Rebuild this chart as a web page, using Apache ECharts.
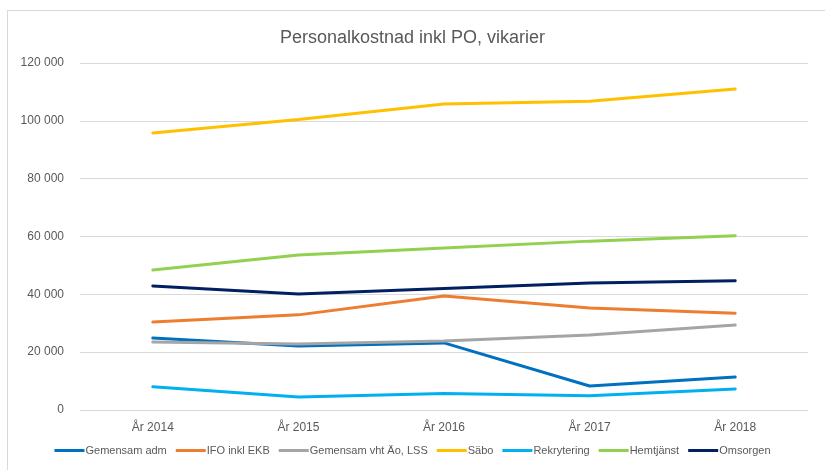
<!DOCTYPE html>
<html>
<head>
<meta charset="utf-8">
<script src="https://cdn.jsdelivr.net/npm/echarts@6/dist/echarts.min.js"></script>
<style>
  html, body { margin: 0; padding: 0; background: #fff; }
  #frame { position: absolute; left: 7px; top: 10px; width: 830px; height: 480px; border: 1px solid #d9d9d9; box-sizing: border-box; }
  #chart { position: absolute; left: 0; top: 0; width: 825px; height: 470px; }
</style>
</head>
<body>
<div id="frame"></div>
<div id="chart"></div>
<script>
  // years on the x axis
  var years = ['År 2014', 'År 2015', 'År 2016', 'År 2017', 'År 2018']

  // values
  var gemensamAdm = [24900, 22100, 23200, 8300, 11400]
  var ifoInklEkb = [30400, 32900, 39400, 35300, 33500]
  var gemensamVht = [23500, 22800, 23900, 25900, 29400]
  var sabo = [95800, 100500, 105800, 106800, 111000]
  var rekrytering = [8000, 4500, 5700, 4900, 7300]
  var hemtjanst = [48400, 53600, 56000, 58400, 60300]
  var omsorgen = [42900, 40100, 42000, 43900, 44700]

  var names = ['Gemensam adm', 'IFO inkl EKB', 'Gemensam vht Äo, LSS', 'Säbo', 'Rekrytering', 'Hemtjänst', 'Omsorgen']
  var values = [gemensamAdm, ifoInklEkb, gemensamVht, sabo, rekrytering, hemtjanst, omsorgen]
  var colors = ['#0070C0', '#ED7D31', '#A5A5A5', '#FFC000', '#00B0F0', '#92D050', '#002060']

  var font = '"Liberation Sans", sans-serif'

  var series = names.map(function (n, i) {
    return {
      name: n,
      type: 'line',
      data: values[i],
      symbol: 'none',
      lineStyle: { width: 3, color: colors[i], cap: 'round' },
      itemStyle: { color: colors[i] }
    }
  })

  var myChart = echarts.init(document.getElementById('chart'))
  myChart.setOption({
    animation: false,
    textStyle: { fontFamily: font },
    title: {
      text: 'Personalkostnad inkl PO, vikarier',
      left: 'center',
      top: 24,
      textStyle: { fontSize: 18, fontWeight: 'normal', color: '#595959', fontFamily: font }
    },
    legend: {
      bottom: 9,
      left: 'center',
      itemWidth: 30,
      itemHeight: 3,
      itemGap: 9,
      icon: 'rect',
      textStyle: { fontSize: 11, color: '#595959', fontFamily: font, padding: [0, 0, 0, -4] },
      data: names
    },
    grid: { left: 80, right: 17, top: 63, bottom: 60 },
    xAxis: {
      type: 'category',
      data: years,
      boundaryGap: true,
      axisLine: { show: false },
      axisTick: { show: false },
      axisLabel: { color: '#595959', fontSize: 12, margin: 12, fontFamily: font }
    },
    yAxis: {
      type: 'value',
      min: 0,
      max: 120000,
      interval: 20000,
      axisLine: { show: false },
      axisTick: { show: false },
      splitLine: { lineStyle: { color: '#d9d9d9', width: 1 } },
      axisLabel: {
        color: '#595959',
        fontSize: 12,
        margin: 16,
        fontFamily: font,
        formatter: function (v) {
          return String(v).replace(/\B(?=(\d{3})+(?!\d))/g, ' ')
        }
      }
    },
    series: series
  })
</script>
</body>
</html>
